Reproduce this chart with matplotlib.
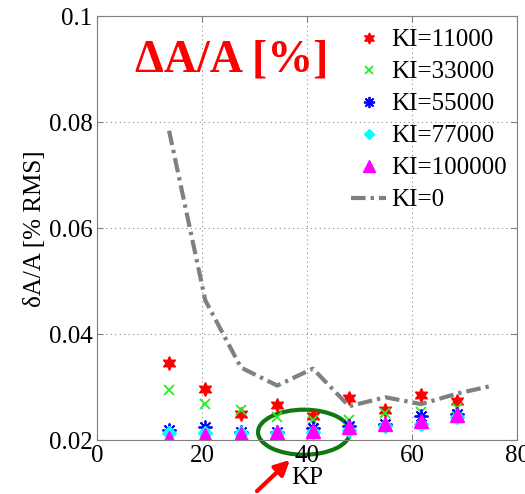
import matplotlib
matplotlib.use("Agg")
import matplotlib.pyplot as plt
from matplotlib.patches import Ellipse, FancyArrowPatch

plt.rcParams['font.family'] = ['Liberation Serif', 'DejaVu Serif']
plt.rcParams['mathtext.fontset'] = 'stix'

kp = [13.7, 20.6, 27.4, 34.3, 41.1, 48.0, 54.9, 61.7, 68.6]
kp_line = [13.7, 20.6, 27.4, 34.3, 41.1, 48.0, 54.9, 61.7, 68.6, 75.4]

ki_11000 = [0.0345, 0.0296, 0.0249, 0.0266, 0.0245, 0.0279, 0.0256, 0.0286, 0.0273]
ki_33000 = [0.0294, 0.0268, 0.0256, 0.0243, 0.0238, 0.0238, 0.0251, 0.0254, 0.0260]
ki_55000 = [0.0219, 0.0224, 0.0215, 0.0215, 0.0222, 0.0226, 0.0230, 0.0245, 0.0250]
ki_77000 = [0.0213, 0.0213, 0.0214, 0.0213, 0.0215, 0.0219, 0.0226, 0.0230, 0.0243]
ki_100000 = [0.0204, 0.0209, 0.0211, 0.0215, 0.0217, 0.0225, 0.0230, 0.0236, 0.0247]
ki_0 = [0.0784, 0.0464, 0.0337, 0.0303, 0.0335, 0.0264, 0.0281, 0.0268, 0.0288, 0.0303]

labels = ['KI=11000', 'KI=33000', 'KI=55000', 'KI=77000', 'KI=100000', 'KI=0']
xticks = [0, 20, 40, 60, 80]
yticks = [0.02, 0.04, 0.06, 0.08, 0.1]
ytick_labels = ['0.02', '0.04', '0.06', '0.08', '0.1']

fig = plt.figure(figsize=(5.25, 4.94), dpi=100)
ax = fig.add_axes([0.185, 0.109, 0.8, 0.858])

ax.plot(kp, ki_11000, linestyle='none', marker=(6, 1, 0), color='red', markersize=10, label=labels[0])
ax.plot(kp, ki_33000, linestyle='none', marker='x', color='#22ee22', markersize=7, mew=1.3, label=labels[1])
ax.plot(kp, ki_55000, linestyle='none', marker=(8, 2, 0), color='blue', markersize=10, mew=1.3, label=labels[2])
ax.plot(kp, ki_77000, linestyle='none', marker='D', color='cyan', markersize=7, label=labels[3])
ax.plot(kp, ki_100000, linestyle='none', marker='^', color='magenta', markersize=10, label=labels[4])
ax.plot(kp_line, ki_0, linestyle=(0, (3.5, 1.2, 0.8, 1.2)), color='#808080', linewidth=3, label=labels[5])

ax.set_xlim(0, 80)
ax.set_ylim(0.02, 0.1)
ax.set_xticks(xticks)
ax.set_yticks(yticks)
ax.set_yticklabels(ytick_labels)
ax.tick_params(labelsize=18, direction='in', top=True, right=True, color='#808080', length=4)
ax.grid(True, linestyle=(0, (1, 3)), color='#888888', linewidth=0.8)
for s in ax.spines.values():
    s.set_color('#808080')

ax.set_xlabel('KP', fontsize=18, labelpad=0)
ax.set_ylabel('δA/A [% RMS]', fontsize=18, labelpad=2)

leg = ax.legend(loc='upper right', frameon=False, fontsize=18, handlelength=1.4,
                handletextpad=0.2, labelspacing=0.38, borderaxespad=0.1,
                bbox_to_anchor=(1.005, 1.0), markerscale=0.8)

ax.text(0.32, 0.895, 'ΔA/A [%]', transform=ax.transAxes, color='red', fontsize=33,
        fontweight='bold', ha='center', va='center')

ell = Ellipse((39.4, 0.0215), 17.5, 0.0085, fill=False, edgecolor='#117711', linewidth=3, clip_on=False)
ax.add_patch(ell)

arr = FancyArrowPatch((255 / 525, 0.002), (292 / 525, 1 - 458 / 494),
                      transform=fig.transFigure, arrowstyle='-|>', mutation_scale=22,
                      color='red', linewidth=3)
fig.patches.append(arr)

fig.savefig('out.png', dpi=100)
